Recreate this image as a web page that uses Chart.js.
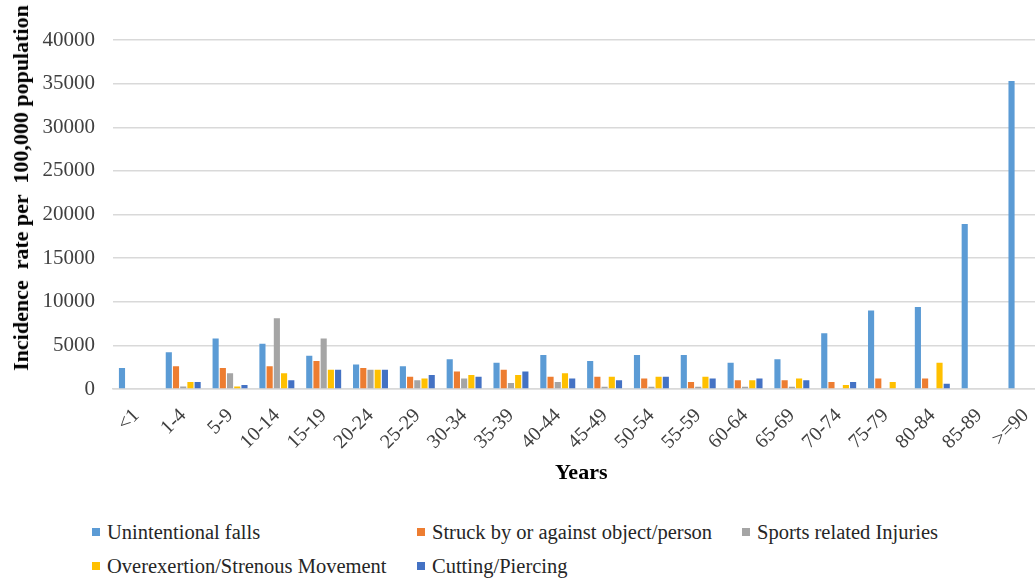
<!DOCTYPE html>
<html>
<head>
<meta charset="utf-8">
<script src="https://cdn.jsdelivr.net/npm/chart.js@4"></script>
<style>
    html, body { margin: 0; padding: 0; overflow: hidden; background: #fff; }
    #wrap { position: relative; width: 1035px; height: 580px; overflow: hidden; }
    #chartBox { position: absolute; left: 0; top: 0; width: 1058px; height: 490px; }
    #yTitle {
        position: absolute; left: 21px; top: 188px;
        transform: translate(-50%, -50%) rotate(-90deg);
        white-space: pre; font-family: 'Liberation Serif', serif;
        font-weight: bold; font-size: 22px; color: #000;
    }
    .leg { position: absolute; font-family: 'Liberation Serif', serif; font-size: 20.5px; color: #262626; white-space: nowrap; line-height: 1; }
    .leg span { position: absolute; width: 8px; height: 8px; left: 0; top: 50%; margin-top: -4px; }
    .leg b { font-weight: normal; position: absolute; left: 15px; top: 50%; transform: translateY(-50%); }
</style>
</head>
<body>
<div id="wrap">
    <div id="chartBox"><canvas id="injuryChart" width="1058" height="490"></canvas></div>
    <div id="yTitle">Incidence  rate per  100,000 population</div>
    <div id="legend"></div>
</div>
<script>
// Age groups (x axis)
const ageGroups = ['<1', '1-4', '5-9', '10-14', '15-19', '20-24', '25-29', '30-34', '35-39', '40-44',
    '45-49', '50-54', '55-59', '60-64', '65-69', '70-74', '75-79', '80-84', '85-89', '>=90'];

// Incidence rate per 100,000 population
const unintentionalFalls = [2400, 4200, 5800, 5200, 3800, 2800, 2600, 3400, 3000, 3900,
    3200, 3900, 3900, 3000, 3400, 6400, 9000, 9400, 18900, 35300];
const struckBy = [0, 2600, 2400, 2600, 3200, 2400, 1400, 2000, 2200, 1400,
    1400, 1200, 800, 1000, 1000, 800, 1200, 1200, 0, 0];
const sportsInjuries = [0, 300, 1800, 8100, 5800, 2200, 1000, 1200, 700, 800,
    250, 250, 250, 250, 250, 0, 0, 0, 0, 0];
const overexertion = [0, 800, 300, 1800, 2200, 2200, 1200, 1600, 1600, 1800,
    1400, 1400, 1400, 1000, 1200, 450, 800, 3000, 0, 0];
const cuttingPiercing = [0, 800, 450, 1000, 2200, 2200, 1600, 1400, 2000, 1200,
    1000, 1400, 1200, 1200, 1000, 800, 0, 600, 0, 0];

const seriesNames = ['Unintentional falls', 'Struck by or against object/person', 'Sports related Injuries',
    'Overexertion/Strenous Movement', 'Cutting/Piercing'];
const seriesColors = ['#5B9BD5', '#ED7D31', '#A5A5A5', '#FFC000', '#4472C4'];
const seriesData = [unintentionalFalls, struckBy, sportsInjuries, overexertion, cuttingPiercing];

const yTicks = [0, 5000, 10000, 15000, 20000, 25000, 30000, 35000, 40000];

const serif = "'Liberation Serif', serif";
const plotBottom = 389;

const ctx = document.getElementById('injuryChart').getContext('2d');

new Chart(ctx, {
    type: 'bar',
    data: {
        labels: ageGroups,
        datasets: seriesData.map((d, i) => ({
            label: seriesNames[i],
            data: d,
            backgroundColor: seriesColors[i],
            borderWidth: 0,
            categoryPercentage: 0.77,
            barPercentage: 0.85
        }))
    },
    options: {
        responsive: false,
        animation: false,
        layout: { padding: { top: 40, right: 3, bottom: 0, left: 0 } },
        plugins: {
            legend: { display: false },
            tooltip: { enabled: false }
        },
        scales: {
            x: {
                grid: { display: false, drawTicks: false },
                border: { display: true, color: '#d9d9d9', width: 1.5 },
                ticks: {
                    font: { family: serif, size: 20 },
                    color: '#404040',
                    minRotation: 45,
                    maxRotation: 45,
                    padding: 15
                },
                title: {
                    display: true,
                    text: 'Years',
                    font: { family: serif, size: 22, weight: 'bold' },
                    color: '#000',
                    padding: { top: 4, bottom: 3 }
                },
                afterFit: function(scale) {
                    scale.height = 490 - plotBottom;
                }
            },
            y: {
                min: yTicks[0],
                max: yTicks[yTicks.length - 1],
                ticks: {
                    stepSize: yTicks[1] - yTicks[0],
                    callback: function(value) { return String(value); },
                    font: { family: serif, size: 21 },
                    color: '#404040',
                    padding: 18
                },
                grid: { color: '#d9d9d9', lineWidth: 1.5, drawTicks: false },
                border: { display: false },
                afterFit: function(scale) {
                    scale.width = 113;
                }
            }
        }
    }
});

// Legend, laid out in Excel-like columns
const legendPos = [[92, 532], [417, 532], [742, 532], [92, 566], [417, 566]];
const legendBox = document.getElementById('legend');
seriesNames.forEach((name, i) => {
    const item = document.createElement('div');
    item.className = 'leg';
    item.style.left = legendPos[i][0] + 'px';
    item.style.top = legendPos[i][1] + 'px';
    item.innerHTML = '<span style="background:' + seriesColors[i] + '"></span><b></b>';
    item.querySelector('b').textContent = name;
    legendBox.appendChild(item);
});
</script>
</body>
</html>
